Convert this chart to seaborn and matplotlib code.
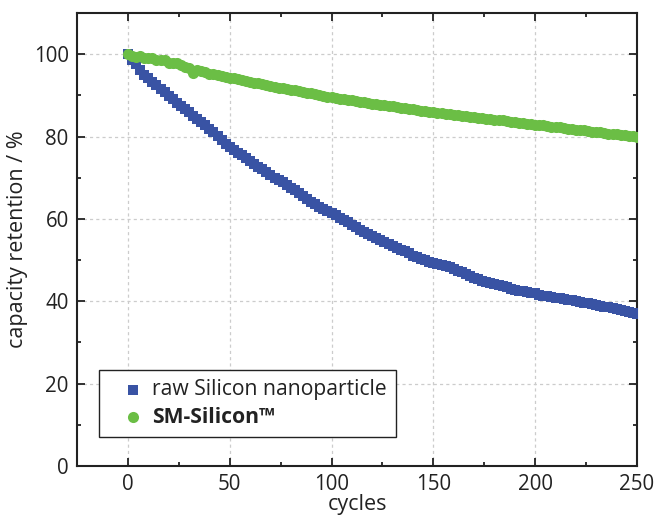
import numpy as np
import pandas as pd
import seaborn as sns
import matplotlib.pyplot as plt
from matplotlib.ticker import MultipleLocator

# cycle numbers (every second cycle)
cycles = list(range(0, 251, 2))

raw_si = [
	100.0, 98.7, 97.5, 96.2, 95.0, 94.1, 93.2, 92.4, 91.5, 90.7,
	89.8, 89.0, 88.2, 87.4, 86.6, 85.9, 85.1, 84.3, 83.5, 82.7,
	81.9, 81.1, 80.2, 79.2, 78.3, 77.5, 76.8, 76.1, 75.4, 74.7,
	74.0, 73.3, 72.7, 72.0, 71.4, 70.7, 70.0, 69.4, 68.9, 68.2,
	67.6, 66.9, 66.2, 65.5, 64.9, 64.2, 63.6, 63.0, 62.5, 61.9,
	61.4, 60.9, 60.3, 59.8, 59.2, 58.6, 58.0, 57.4, 56.8, 56.3,
	55.8, 55.3, 54.8, 54.3, 53.8, 53.3, 52.9, 52.5, 52.1, 51.6,
	51.1, 50.7, 50.3, 49.9, 49.6, 49.3, 49.0, 48.8, 48.6, 48.2,
	47.8, 47.4, 47.0, 46.6, 46.1, 45.7, 45.3, 45.0, 44.7, 44.5,
	44.2, 43.9, 43.6, 43.4, 43.1, 42.8, 42.6, 42.4, 42.3, 42.1,
	41.9, 41.6, 41.4, 41.2, 41.0, 40.8, 40.7, 40.5, 40.4, 40.3,
	40.1, 39.9, 39.7, 39.6, 39.3, 39.1, 38.9, 38.7, 38.6, 38.4,
	38.2, 37.9, 37.6, 37.4, 37.2, 37.0,
]

sm_si = [
	100.0, 99.6, 99.4, 99.5, 99.1, 99.0, 99.1, 98.6, 98.5, 98.5,
	97.9, 97.8, 97.8, 97.3, 97.0, 96.7, 95.4, 96.2, 95.9, 95.6,
	95.3, 95.1, 94.9, 94.7, 94.5, 94.3, 94.1, 93.9, 93.7, 93.5,
	93.3, 93.1, 92.9, 92.7, 92.5, 92.3, 92.1, 91.9, 91.7, 91.5,
	91.4, 91.2, 91.0, 90.8, 90.6, 90.5, 90.3, 90.1, 89.9, 89.7,
	89.5, 89.4, 89.2, 89.1, 88.9, 88.8, 88.6, 88.5, 88.3, 88.2,
	88.0, 87.9, 87.7, 87.6, 87.4, 87.3, 87.2, 87.0, 86.9, 86.7,
	86.6, 86.4, 86.3, 86.2, 86.0, 85.9, 85.8, 85.7, 85.5, 85.4,
	85.3, 85.2, 85.1, 84.9, 84.8, 84.7, 84.6, 84.5, 84.3, 84.2,
	84.1, 84.0, 83.9, 83.7, 83.6, 83.5, 83.4, 83.3, 83.1, 83.0,
	82.9, 82.8, 82.7, 82.5, 82.4, 82.3, 82.2, 82.1, 81.9, 81.8,
	81.7, 81.6, 81.5, 81.3, 81.2, 81.1, 81.0, 80.9, 80.7, 80.6,
	80.5, 80.4, 80.3, 80.2, 80.1, 80.0,
]

labels = ['raw Silicon nanoparticle', 'SM-Silicon™']
colors = ['#3953a4', '#6bbe45']

sns.set_style('ticks')
plt.rcParams['font.family'] = ['Open Sans', 'DejaVu Sans']

fig = plt.figure(figsize=(6.71, 5.19), dpi=100)
ax = fig.add_axes([0.1148, 0.1021, 0.8345, 0.8729])

df_raw = pd.DataFrame({'cycle': cycles, 'ret': raw_si})
df_sm = pd.DataFrame({'cycle': cycles, 'ret': sm_si})

sns.scatterplot(data=df_raw, x='cycle', y='ret', marker='s', s=44, color=colors[0],
	linewidth=0, ax=ax, label=labels[0], zorder=3)
sns.scatterplot(data=df_sm, x='cycle', y='ret', marker='o', s=64, color=colors[1],
	linewidth=0, ax=ax, label=labels[1], zorder=4)

ax.set_xlim(-25, 250)
ax.set_ylim(0, 110)
ax.xaxis.set_major_locator(MultipleLocator(50))
ax.xaxis.set_minor_locator(MultipleLocator(25))
ax.yaxis.set_major_locator(MultipleLocator(20))
ax.yaxis.set_minor_locator(MultipleLocator(10))

ax.grid(True, which='major', color='#cccccc', linestyle=(0, (2.5, 2.5)), linewidth=0.9)
ax.set_axisbelow(True)

ax.tick_params(which='both', direction='in', top=True, right=True,
	color='#222222', width=1.3, labelsize=14.8, labelcolor='#222222')
ax.tick_params(which='major', length=6, pad=6)
ax.tick_params(which='minor', length=3)
for s in ax.spines.values():
	s.set_linewidth(1.5)
	s.set_color('#222222')

ax.set_xlabel('cycles', fontsize=15.5, color='#222222', labelpad=-1)
ax.set_ylabel('capacity retention / %', fontsize=15.5, color='#222222', labelpad=4)

leg = ax.legend(loc='lower left', bbox_to_anchor=(0.039, 0.064), fontsize=15.2,
	frameon=True, fancybox=False, edgecolor='#222222', framealpha=1,
	borderpad=0.45, handlelength=2.3, handletextpad=-0.25, labelspacing=0.3,
	markerscale=1.0, borderaxespad=0)
leg.get_frame().set_linewidth(1.0)
leg.get_texts()[1].set_fontweight('bold')
for t in leg.get_texts():
	t.set_color('#222222')

fig.savefig('out.png', dpi=100)
